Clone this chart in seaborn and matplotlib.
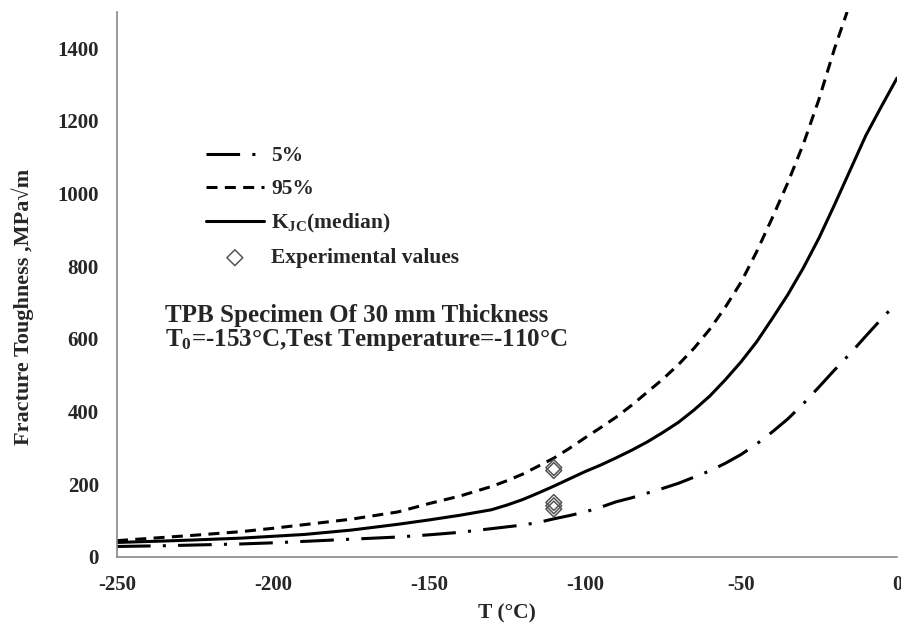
import numpy as np
import pandas as pd
import matplotlib
matplotlib.use("Agg")
import matplotlib.pyplot as plt
import seaborn as sns

# =========================
# DATA
# =========================
temp_median = [-250, -235, -225, -210, -200, -190, -175, -160, -150, -140,
               -130, -125, -120, -115, -110, -105, -100, -95, -90, -85,
               -80, -75, -70, -65, -60, -55, -50, -45, -40, -35,
               -30, -25, -20, -15, -10, -5, 0]
k_median = [40, 44, 47, 52, 57, 62, 74, 90, 102, 115,
            130, 143, 158, 176, 195, 215, 235, 253, 273, 294,
            317, 343, 371, 405, 443, 488, 537, 592, 656, 722,
            796, 878, 970, 1065, 1160, 1240, 1318]

temp_5 = [-250, -235, -225, -210, -200, -190, -175, -160, -150, -140,
          -130, -120, -115, -110, -105, -100, -95, -90, -85, -80,
          -75, -70, -65, -60, -55, -50, -45, -40, -35, -30,
          -25, -20, -15, -10, -5, 0]
k_5 = [29, 31, 33, 36, 39, 43, 49, 55, 61, 68,
       78, 88, 95, 105, 114, 124, 137, 152, 163, 176,
       189, 203, 220, 237, 258, 282, 311, 344, 380, 422,
       468, 515, 560, 608, 655, 700]

temp_95 = [-250, -235, -225, -210, -200, -190, -175, -160, -150, -140,
           -130, -125, -120, -115, -110, -105, -100, -95, -90, -85,
           -80, -75, -70, -65, -60, -55, -50, -45, -40, -35,
           -30, -25, -20, -16]
k_95 = [45, 54, 60, 70, 79, 89, 104, 124, 147, 168,
        194, 210, 228, 250, 272, 299, 328, 356, 385, 418,
        454, 490, 530, 575, 627, 688, 756, 840, 933, 1030,
        1137, 1260, 1400, 1500]

exp_temp = [-110, -110, -110, -110, -110]
exp_k = [238, 246, 132, 141, 150]

x_ticks = [-250, -200, -150, -100, -50, 0]
y_ticks = [0, 200, 400, 600, 800, 1000, 1200, 1400]

# =========================
# STYLE
# =========================
sns.set_style("white")
plt.rcParams["font.family"] = ["Liberation Serif", "DejaVu Serif"]
plt.rcParams["font.weight"] = "bold"
plt.rcParams["axes.unicode_minus"] = False
plt.rcParams["mathtext.fontset"] = "custom"
plt.rcParams["mathtext.rm"] = "Liberation Serif:bold"
plt.rcParams["mathtext.bf"] = "Liberation Serif:bold"
plt.rcParams["mathtext.it"] = "Liberation Serif:bold"

fig = plt.figure(figsize=(9.01, 6.23), dpi=100)
ax = fig.add_axes([117 / 901, 66 / 623, 780 / 901, 545 / 623])

df_med = pd.DataFrame({"T": temp_median, "K": k_median})
df_5 = pd.DataFrame({"T": temp_5, "K": k_5})
df_95 = pd.DataFrame({"T": temp_95, "K": k_95})
df_exp = pd.DataFrame({"T": exp_temp, "K": exp_k})

sns.lineplot(data=df_5, x="T", y="K", ax=ax, color="black", lw=2.2,
             linestyle=(0, (11, 4, 1, 4)), estimator=None, label="5%")
sns.lineplot(data=df_95, x="T", y="K", ax=ax, color="black", lw=2.2,
             linestyle=(0, (3.6, 2.4)), estimator=None, label="95%")
sns.lineplot(data=df_med, x="T", y="K", ax=ax, color="black", lw=2.2,
             estimator=None, label=r"K$_{\mathrm{JC}}$(median)")
sns.scatterplot(data=df_exp, x="T", y="K", ax=ax, marker="D", s=65,
                facecolor="none", edgecolor="#555555", linewidth=1.1,
                label="Experimental values", zorder=5)

# =========================
# AXES
# =========================
ax.set_xlim(-250, 0)
ax.set_ylim(0, 1500)
ax.set_xticks(x_ticks)
ax.set_yticks(y_ticks)
ax.tick_params(direction="in", length=6, width=1, color="#888888",
               labelsize=15, pad=13)
for lab in ax.get_xticklabels() + ax.get_yticklabels():
    lab.set_fontweight("bold")
for side in ["top", "right"]:
    ax.spines[side].set_visible(False)
for side in ["left", "bottom"]:
    ax.spines[side].set_color("#888888")
    ax.spines[side].set_linewidth(1.2)

ax.set_xlabel("T (°C)", fontsize=15.5, fontweight="bold", labelpad=6)
ax.set_ylabel("Fracture Toughness ,MPa√m", fontsize=16, fontweight="bold")
ax.yaxis.set_label_coords(-0.107, 0.459)

handles, labels = ax.get_legend_handles_labels()
leg = ax.legend(handles, labels, loc="upper left",
                bbox_to_anchor=(0.089, 0.789), frameon=False,
                fontsize=15.5, handlelength=2.7, handletextpad=0.35,
                labelspacing=0.6)
for t in leg.get_texts():
    t.set_fontweight("bold")

ax.text(0.0615, 0.444, "TPB Specimen Of 30 mm Thickness", transform=ax.transAxes,
        fontsize=18, fontweight="bold", va="center", ha="left")
ax.text(0.0615, 0.398, r"T$_{\mathrm{0}}$=-153°C,Test Temperature=-110°C",
        transform=ax.transAxes, fontsize=18, fontweight="bold",
        va="center", ha="left")

fig.savefig("out.png", dpi=100)
